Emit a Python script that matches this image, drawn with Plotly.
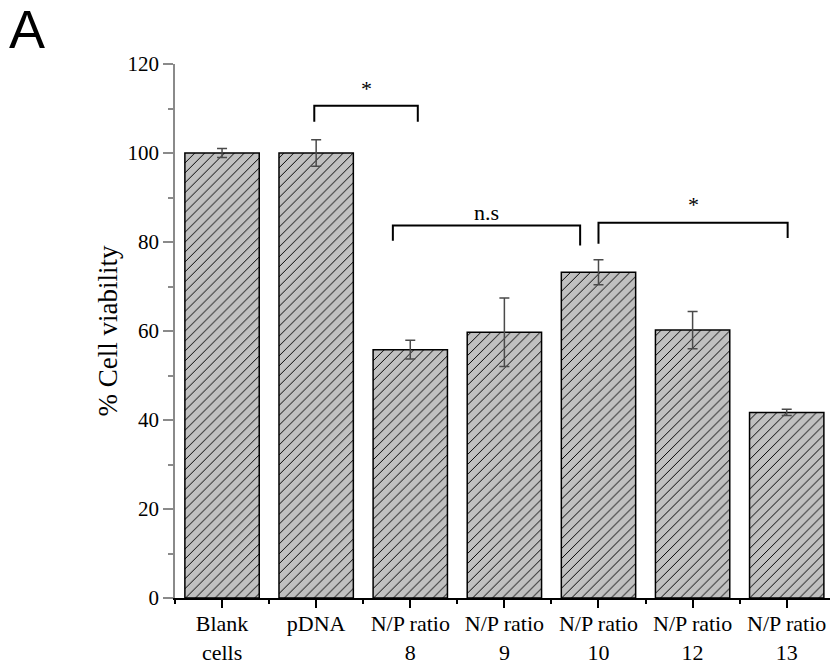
import plotly.graph_objects as go

categories = ["Blank<br>cells", "pDNA", "N/P ratio<br>8", "N/P ratio<br>9",
              "N/P ratio<br>10", "N/P ratio<br>12", "N/P ratio<br>13"]
viability = [100.0, 100.0, 55.8, 59.7, 73.2, 60.2, 41.7]
errors = [1.0, 3.0, 2.1, 7.7, 2.8, 4.2, 0.7]

y_ticks = [0, 20, 40, 60, 80, 100, 120]

# significance brackets: x_left, x_right, y_top, y_left_end, y_right_end, label
bracket_x_left = [0.98, 1.815, 4.0]
bracket_x_right = [2.08, 3.805, 6.01]
bracket_y_top = [110.6, 83.7, 84.3]
bracket_y_left = [107.0, 80.3, 79.6]
bracket_y_right = [107.0, 79.2, 80.9]
bracket_labels = ["*", "n.s", "*"]
bracket_label_y = [114.6, 86.6, 88.4]

xpos = list(range(len(categories)))
serif = "Liberation Serif"

fig = go.Figure()
fig.add_trace(go.Bar(
    x=xpos, y=viability, width=0.79,
    marker=dict(color="#c0c0c0", line=dict(color="black", width=1.5),
                pattern=dict(shape="/", fgcolor="black", bgcolor="#c0c0c0",
                             size=7, solidity=0.14, fgopacity=1)),
    error_y=dict(type="data", array=errors, visible=True, color="#4a4a4a",
                 thickness=1.5, width=5),
    showlegend=False,
))

for i in range(len(bracket_labels)):
    fig.add_trace(go.Scatter(
        x=[bracket_x_left[i], bracket_x_left[i], bracket_x_right[i], bracket_x_right[i]],
        y=[bracket_y_left[i], bracket_y_top[i], bracket_y_top[i], bracket_y_right[i]],
        mode="lines", line=dict(color="black", width=2), showlegend=False,
        hoverinfo="skip", cliponaxis=False,
    ))
    fig.add_annotation(
        x=(bracket_x_left[i] + bracket_x_right[i]) / 2, y=bracket_label_y[i],
        text=bracket_labels[i], showarrow=False, xref="x", yref="y",
        font=dict(family=serif, size=22, color="black"),
        yanchor="middle",
    )

fig.add_annotation(x=-175/655, y=1 + 64/534, xref="paper", yref="paper",
                   xanchor="left", yanchor="top", text="A", showarrow=False,
                   font=dict(family="Liberation Sans", size=54, color="black"),
                   xshift=7, yshift=3)

fig.update_layout(
    width=830, height=669,
    margin=dict(l=175, r=0, t=64, b=71),
    paper_bgcolor="white", plot_bgcolor="white",
    font=dict(family=serif, size=22, color="black"),
)

fig.update_xaxes(
    range=[-0.5, 6.46], tickmode="array", tickvals=xpos, ticktext=categories,
    showline=True, linecolor="black", linewidth=2,
    ticks="outside", ticklen=8, tickwidth=1.5, tickcolor="black",
    minor=dict(tickmode="array", tickvals=[i - 0.5 for i in range(len(categories))],
               ticks="outside", ticklen=4, tickwidth=1.5, tickcolor="black"),
    showgrid=False, zeroline=False,
    tickfont=dict(family=serif, size=22, color="black"),
    ticklabelstandoff=-3,
)
fig.update_yaxes(
    range=[0, 120], tickmode="array", tickvals=y_ticks,
    showline=True, linecolor="#8a8a8a", linewidth=1.5,
    ticks="outside", ticklen=10, tickwidth=1.5, tickcolor="#8a8a8a",
    minor=dict(dtick=10, ticks="outside", ticklen=5, tickwidth=1.5, tickcolor="#8a8a8a"),
    showgrid=False, zeroline=False,
    tickfont=dict(family=serif, size=21, color="black"),
    title=dict(text="% Cell viability", font=dict(family=serif, size=27, color="black"),
               standoff=2),
)

fig.write_html("out.html")
